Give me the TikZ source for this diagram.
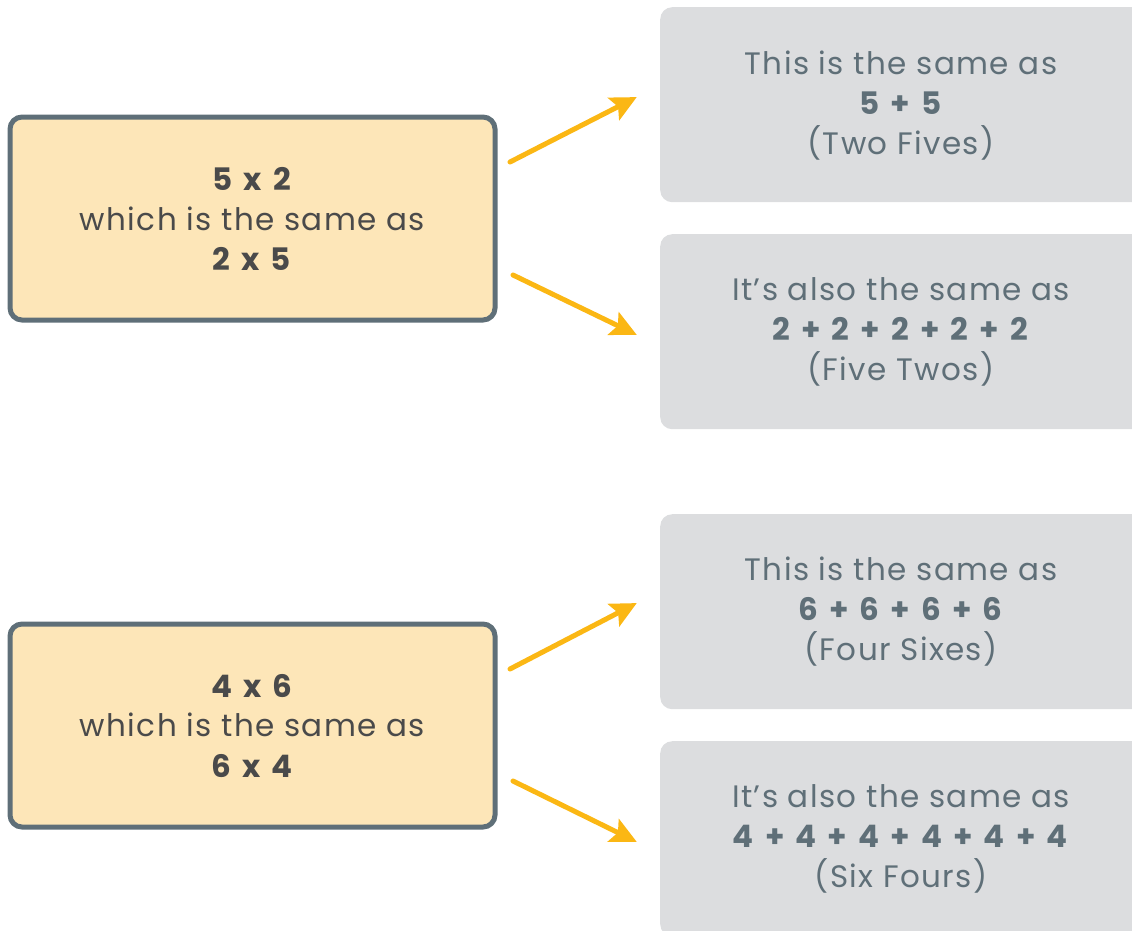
\documentclass[tikz,border=0pt]{standalone}
\usepackage{fontspec}
\setmainfont{Poppins}[LetterSpace=4.5, BoldFeatures={WordSpace=1.4}]
\usetikzlibrary{arrows.meta}
\definecolor{ybox}{HTML}{FDE6B8}
\definecolor{yedge}{HTML}{5F6F78}
\definecolor{gbox}{HTML}{DCDDDF}
\definecolor{gtext}{HTML}{5F6F78}
\definecolor{dtext}{HTML}{4A4A4A}
\definecolor{arr}{HTML}{FBB714}
\tikzset{
  ynode/.style={draw=yedge, line width=5pt, fill=ybox, rounded corners=12pt,
    minimum width=485pt, minimum height=203pt, align=center, text=dtext,
    font=\fontsize{31}{40}\selectfont, inner sep=0pt},
  gnode/.style={fill=gbox, rounded corners=12pt, minimum width=500pt,
    minimum height=195pt, inner sep=0pt},
  gtxt/.style={align=center, text=gtext, font=\fontsize{31}{40}\selectfont, inner sep=0pt},
  conn/.style={draw=arr, line width=5pt, line cap=round,
    -{Stealth[length=26pt,width=25pt,inset=5pt]}, shorten >=-2pt}
}
\begin{document}
\begin{tikzpicture}[x=1pt,y=-1pt]
\useasboundingbox (0,0) rectangle (1132,930);
\clip (0,0) rectangle (1132,930);
% yellow boxes
\node[ynode] (y1) at (252.5,218.5) {\textbf{5 x 2}\\which is the same as\\\textbf{2 x 5}};
\node[ynode] (y2) at (252.5,725.5) {\textbf{4 x 6}\\which is the same as\\\textbf{6 x 4}};
% gray boxes
\node[gnode, anchor=north west] (g1) at (660,7) {};
\node[gnode, anchor=north west] (g2) at (660,234) {};
\node[gnode, anchor=north west] (g3) at (660,514) {};
\node[gnode, anchor=north west] (g4) at (660,741) {};
\node[gtxt] (t1) at (901,106) {This is the same as\\\textbf{5 + 5}\\(Two Fives)};
\node[gtxt] (t2) at (901,332) {It’s also the same as\\\textbf{2 + 2 + 2 + 2 + 2}\\(Five Twos)};
\node[gtxt] (t3) at (901,612) {This is the same as\\\textbf{6 + 6 + 6 + 6}\\(Four Sixes)};
\node[gtxt] (t4) at (901,839) {It’s also the same as\\\textbf{4 + 4 + 4 + 4 + 4 + 4}\\(Six Fours)};
% arrow end points
\coordinate (a1s) at (510,162); \coordinate (a1e) at (635,98);
\coordinate (a2s) at (513,275); \coordinate (a2e) at (635,334);
\coordinate (a3s) at (510,669); \coordinate (a3e) at (635,604);
\coordinate (a4s) at (513,781); \coordinate (a4e) at (635,841);
\draw[conn] (a1s) -- (a1e);
\draw[conn] (a2s) -- (a2e);
\draw[conn] (a3s) -- (a3e);
\draw[conn] (a4s) -- (a4e);
\end{tikzpicture}
\end{document}
